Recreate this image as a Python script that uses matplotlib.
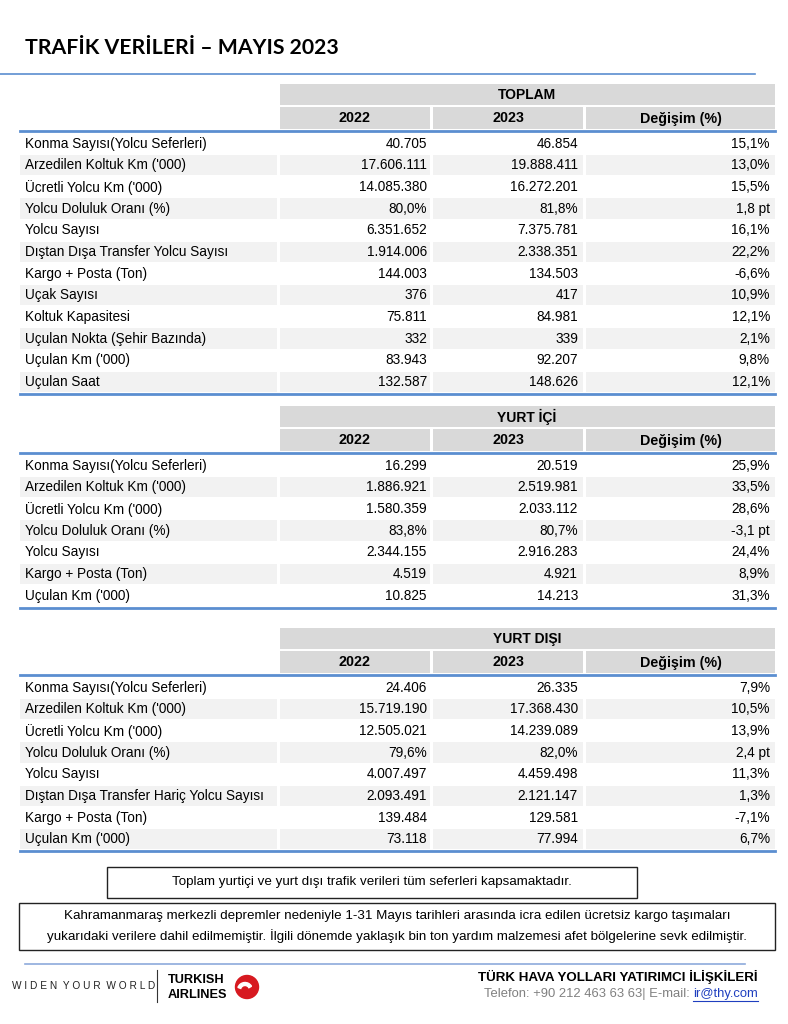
import matplotlib.pyplot as plt
from matplotlib.patches import Rectangle, Circle, Wedge

plt.rcParams['font.family'] = ['Liberation Sans', 'DejaVu Sans']

# table data
years = ['2022', '2023', 'Değişim (%)']

toplam_labels = ['Konma Sayısı(Yolcu Seferleri)', "Arzedilen Koltuk Km ('000)", "Ücretli Yolcu Km ('000)",
                 'Yolcu Doluluk Oranı (%)', 'Yolcu Sayısı', 'Dıştan Dışa Transfer Yolcu Sayısı',
                 'Kargo + Posta (Ton)', 'Uçak Sayısı', 'Koltuk Kapasitesi', 'Uçulan Nokta (Şehir Bazında)',
                 "Uçulan Km ('000)", 'Uçulan Saat']
toplam_2022 = ['40.705', '17.606.111', '14.085.380', '80,0%', '6.351.652', '1.914.006',
               '144.003', '376', '75.811', '332', '83.943', '132.587']
toplam_2023 = ['46.854', '19.888.411', '16.272.201', '81,8%', '7.375.781', '2.338.351',
               '134.503', '417', '84.981', '339', '92.207', '148.626']
toplam_chg = ['15,1%', '13,0%', '15,5%', '1,8 pt', '16,1%', '22,2%',
              '-6,6%', '10,9%', '12,1%', '2,1%', '9,8%', '12,1%']

ic_labels = ['Konma Sayısı(Yolcu Seferleri)', "Arzedilen Koltuk Km ('000)", "Ücretli Yolcu Km ('000)",
             'Yolcu Doluluk Oranı (%)', 'Yolcu Sayısı', 'Kargo + Posta (Ton)', "Uçulan Km ('000)"]
ic_2022 = ['16.299', '1.886.921', '1.580.359', '83,8%', '2.344.155', '4.519', '10.825']
ic_2023 = ['20.519', '2.519.981', '2.033.112', '80,7%', '2.916.283', '4.921', '14.213']
ic_chg = ['25,9%', '33,5%', '28,6%', '-3,1 pt', '24,4%', '8,9%', '31,3%']

dis_labels = ['Konma Sayısı(Yolcu Seferleri)', "Arzedilen Koltuk Km ('000)", "Ücretli Yolcu Km ('000)",
              'Yolcu Doluluk Oranı (%)', 'Yolcu Sayısı', 'Dıştan Dışa Transfer Hariç Yolcu Sayısı',
              'Kargo + Posta (Ton)', "Uçulan Km ('000)"]
dis_2022 = ['24.406', '15.719.190', '12.505.021', '79,6%', '4.007.497', '2.093.491', '139.484', '73.118']
dis_2023 = ['26.335', '17.368.430', '14.239.089', '82,0%', '4.459.498', '2.121.147', '129.581', '77.994']
dis_chg = ['7,9%', '10,5%', '13,9%', '2,4 pt', '11,3%', '1,3%', '-7,1%', '6,7%']

BLUE = '#5b8ed0'
HEAD = '#d9d9d9'
SHADE = '#f2f2f2'
FS = 9.8

fig = plt.figure(figsize=(7.88, 10.24), dpi=100)
ax = fig.add_axes([0, 0, 1, 1])
ax.set_xlim(0, 788)
ax.set_ylim(1024, 0)
ax.axis('off')

ax.text(25, 48, 'TRAFİK VERİLERİ – MAYIS 2023', fontsize=15.3, fontweight='bold',
        family=['Lato', 'DejaVu Sans'], va='center', ha='left')
ax.plot([0, 755], [74, 74], color=BLUE, lw=1.2)

cols = [(280, 430), (433, 583), (586, 775)]


def draw_table(top, title, labels, v22, v23, chg):
    # title band
    ax.add_patch(Rectangle((280, top), 495, 21, color=HEAD, lw=0))
    ax.text(527, top + 11, title, ha='center', va='center', fontsize=10, fontweight='bold')
    # column headers
    for (x0, x1), name in zip(cols, years):
        ax.add_patch(Rectangle((x0, top + 23), x1 - x0, 22, color=HEAD, lw=0))
        ax.text((x0 + x1) / 2, top + 34.5, name, ha='center', va='center', fontsize=10.3, fontweight='bold')
    ax.plot([20, 775], [top + 47, top + 47], color=BLUE, lw=2)
    y0 = top + 49
    rh = 21.65
    for i, lab in enumerate(labels):
        y = y0 + i * rh
        if i % 2 == 1:
            ax.add_patch(Rectangle((20, y + 0.5), 257, rh - 1.5, color=SHADE, lw=0))
            for x0, x1 in cols:
                ax.add_patch(Rectangle((x0, y + 0.5), x1 - x0, rh - 1.5, color=SHADE, lw=0))
        yc = y + rh / 2
        ax.text(25, yc, lab, ha='left', va='center', fontsize=FS)
        ax.text(427, yc, v22[i], ha='right', va='center', fontsize=FS)
        ax.text(578, yc, v23[i], ha='right', va='center', fontsize=FS)
        ax.text(770, yc, chg[i], ha='right', va='center', fontsize=FS)
    yb = y0 + len(labels) * rh + 1
    ax.plot([20, 775], [yb, yb], color=BLUE, lw=2)


draw_table(84, 'TOPLAM', toplam_labels, toplam_2022, toplam_2023, toplam_chg)
draw_table(406, 'YURT İÇİ', ic_labels, ic_2022, ic_2023, ic_chg)
draw_table(628, 'YURT DIŞI', dis_labels, dis_2022, dis_2023, dis_chg)

NFS = 9.6
ax.add_patch(Rectangle((107, 867), 530, 31, fill=False, ec='#222222', lw=1))
ax.text(372, 882.5, 'Toplam yurtiçi ve yurt dışı trafik verileri tüm seferleri kapsamaktadır.',
        ha='center', va='center', fontsize=NFS)
ax.add_patch(Rectangle((19, 903), 756, 47, fill=False, ec='#222222', lw=1))
ax.text(397, 915.5, 'Kahramanmaraş merkezli depremler nedeniyle 1-31 Mayıs tarihleri arasında icra edilen '
        'ücretsiz kargo taşımaları', ha='center', va='center', fontsize=NFS)
ax.text(397, 936, 'yukarıdaki verilere dahil edilmemiştir. İlgili dönemde yaklaşık bin ton yardım malzemesi '
        'afet bölgelerine sevk edilmiştir.', ha='center', va='center', fontsize=NFS)

# footer
ax.plot([25, 745], [964, 964], color='#8eaadb', lw=1.2)
ax.text(12, 986, 'W I D E N  Y O U R  W O R L D', ha='left', va='center', fontsize=7.3,
        color='#222222')
ax.plot([157, 157], [970, 1002], color='#333333', lw=0.8)
ax.text(168, 980, 'TURKISH', ha='left', va='center', fontsize=9.2, fontweight='bold')
ax.text(168, 995, 'AIRLINES', ha='left', va='center', fontsize=9.2, fontweight='bold')
ax.add_patch(Circle((247, 987), 11.5, color='#d71920'))
ax.add_patch(Wedge((245, 990), 7.5, 200, 330, width=3, color='white'))
ax.text(758, 977, 'TÜRK HAVA YOLLARI YATIRIMCI İLİŞKİLERİ', ha='right', va='center',
        fontsize=9.6, fontweight='bold')

mail = ax.text(758, 994, 'ir@thy.com', ha='right', va='center', fontsize=9.4, color='#1f3fbf')
r = fig.canvas.get_renderer()
bb = mail.get_window_extent(r).transformed(ax.transData.inverted())
mx0, mx1 = min(bb.x0, bb.x1), max(bb.x0, bb.x1)
ax.text(mx0, 994, 'Telefon: +90 212 463 63 63| E-mail: ', ha='right', va='center',
        fontsize=9.4, color='#808080')
ax.plot([mx0, mx1], [1001, 1001], color='#1f3fbf', lw=0.8)

fig.savefig('out.png', dpi=100)
